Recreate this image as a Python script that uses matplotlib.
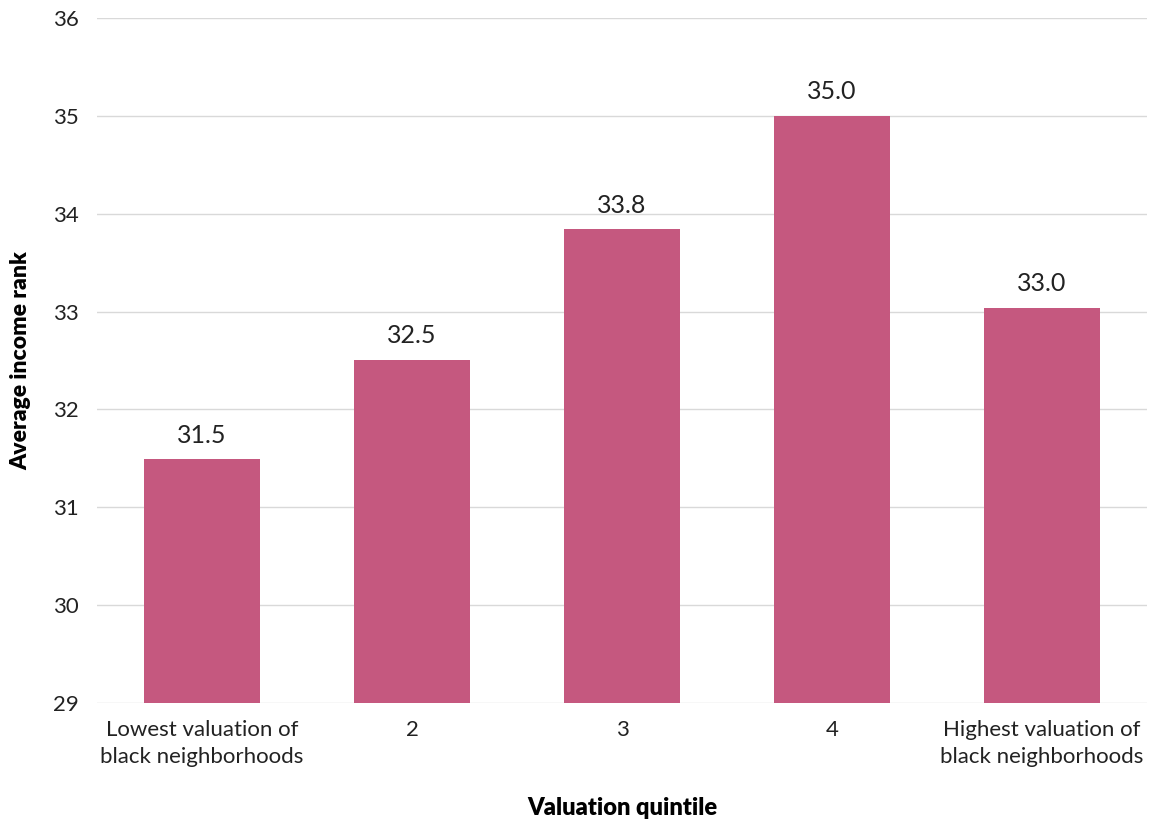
import matplotlib.pyplot as plt

categories = ["Lowest valuation of\nblack neighborhoods", "2", "3", "4",
              "Highest valuation of\nblack neighborhoods"]
values = [31.49, 32.51, 33.84, 35.0, 33.04]
yticks = [29, 30, 31, 32, 33, 34, 35, 36]

plt.rcParams['font.family'] = ['Lato', 'DejaVu Sans']

fig = plt.figure(figsize=(11.53, 8.19), dpi=100)
ax = fig.add_axes([97 / 1153, 1 - 703 / 819, 1050 / 1153, 685 / 819])

x = range(len(categories))
bars = ax.bar(x, values, width=0.55, color="#C5587F", zorder=3)
for b, v in zip(bars, values):
    ax.text(b.get_x() + b.get_width() / 2, v + 0.13, f"{v:.1f}",
            ha="center", va="bottom", fontsize=18, color="#222222")

ax.set_ylim(29, 36)
ax.set_xlim(-0.5, len(categories) - 0.5)
ax.set_yticks(yticks)
ax.set_xticks(list(x))
ax.set_xticklabels(categories, linespacing=1.45)
ax.grid(axis="y", color="#d9d9d9", linewidth=1, zorder=0)
for sp in ax.spines.values():
    sp.set_visible(False)
ax.tick_params(axis="both", length=0, labelsize=16, colors="#222222")
ax.tick_params(axis="y", pad=13)
ax.tick_params(axis="x", pad=12)

ax.set_ylabel("Average income rank", fontsize=16.5, fontweight="heavy")
ax.set_xlabel("Valuation quintile", fontsize=17, fontweight="heavy", labelpad=22)
ax.yaxis.set_label_coords(-66 / 1050, 0.5)

fig.savefig("out.png", dpi=100)
